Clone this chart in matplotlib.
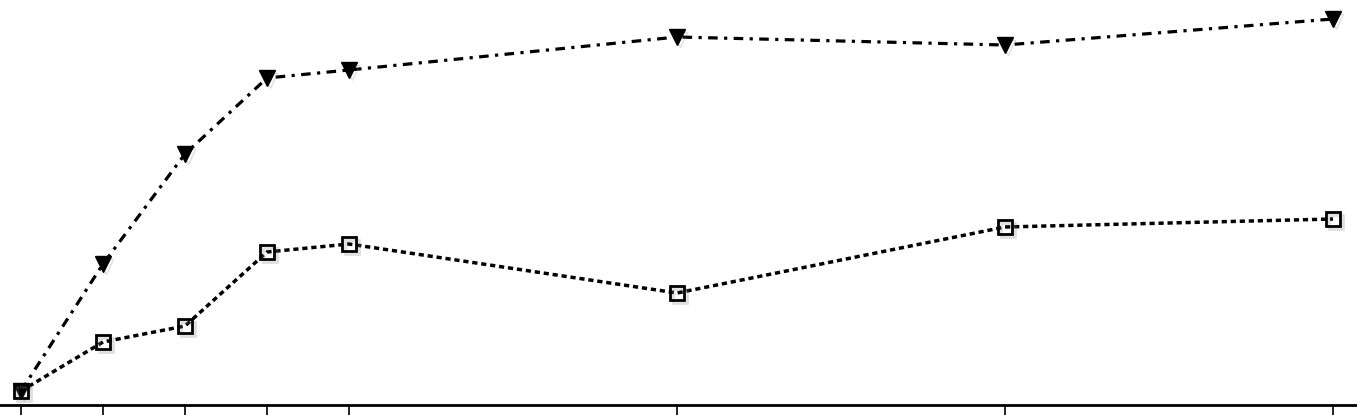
import matplotlib
matplotlib.use("Agg")
import matplotlib.pyplot as plt
import matplotlib.patheffects as pe

# data (arbitrary units, baseline = 0)
x_vals = [0, 1, 2, 3, 4, 8, 12, 16]
tri_vals = [0, 127, 237, 313, 321, 354, 346, 372]
sq_vals = [0, 49, 65, 139, 147, 98, 164, 172]


def main() -> None:
    fig = plt.figure(figsize=(13.57, 4.15), dpi=100)
    ax = fig.add_axes([0, 10 / 415, 1, 405 / 415])

    shadow = [pe.SimpleLineShadow(offset=(2, -2), shadow_color="gray", alpha=0.25), pe.Normal()]

    # lines
    ax.plot(x_vals, tri_vals, color="black", linewidth=2.3, dashes=(3, 2, 1, 2), zorder=2)
    ax.plot(x_vals, sq_vals, color="black", linewidth=2.5, dashes=(1.5, 1.1), zorder=2)

    # markers with a soft shadow
    ax.plot(x_vals, tri_vals, linestyle="none", color="black",
            marker="v", markersize=11, path_effects=shadow, zorder=3)
    ax.plot(x_vals, sq_vals, linestyle="none", color="black",
            marker="s", markersize=10, markerfacecolor="none",
            markeredgewidth=2, path_effects=shadow, zorder=4)

    ax.set_xlim(-21 / 82, 16 + 24 / 82)
    ax.set_ylim(-14, 391)
    ax.set_xticks(x_vals)
    ax.set_xticklabels([])
    ax.set_yticks([])
    for side in ("top", "right", "left"):
        ax.spines[side].set_visible(False)
    ax.spines["bottom"].set_linewidth(2)
    ax.tick_params(axis="x", direction="out", length=7.5, width=1.2)
    ax.patch.set_visible(False)

    fig.savefig("out.png", dpi=100)


if __name__ == '__main__':
    main()
